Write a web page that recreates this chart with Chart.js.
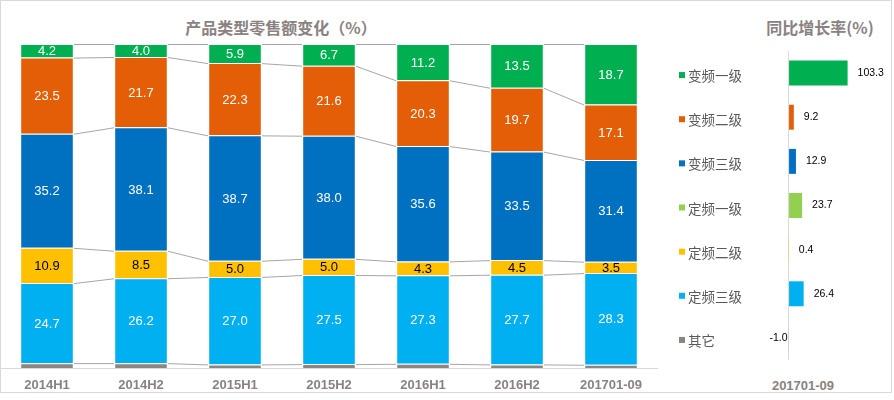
<!DOCTYPE html>
<html><head><meta charset="utf-8">
<script src="https://cdn.jsdelivr.net/npm/chart.js@4"></script>
<style>
html,body{margin:0;padding:0;background:#fff;}
#wrap{position:relative;width:894px;height:400px;overflow:hidden;font-family:"Noto Sans CJK SC","Liberation Sans",sans-serif;}
#frame{position:absolute;left:0;top:0;width:892px;height:393px;box-sizing:border-box;border:1px solid #d9d9d9;}
.t{position:absolute;transform:translate(-50%,-50%);white-space:nowrap;color:#8a8280;font-weight:bold;}
#c1{position:absolute;left:0;top:0;}
#c2{position:absolute;left:670px;top:0;}
</style></head><body>
<div id="wrap">
<div id="frame"></div>
<div class="t" style="left:281px;top:27px;font-size:16px;">产品类型零售额变化（%）</div>
<div class="t" style="left:820px;top:27px;font-size:16px;">同比增长率(%)</div>
<div class="t" style="left:803px;top:385px;font-size:13px;font-family:'Liberation Sans',Arial,sans-serif;">201701-09</div>
<canvas id="c1" width="658" height="400"></canvas>
<canvas id="c2" width="224" height="400"></canvas>
</div>
<script>
// ---- data ----
const periods = ['2014H1','2014H2','2015H1','2015H2','2016H1','2016H2','201701-09'];
const bianpin1 = [4.2, 4.0, 5.9, 6.7, 11.2, 13.5, 18.7];   // 变频一级
const bianpin2 = [23.5, 21.7, 22.3, 21.6, 20.3, 19.7, 17.1]; // 变频二级
const bianpin3 = [35.2, 38.1, 38.7, 38.0, 35.6, 33.5, 31.4]; // 变频三级
const dingpin2 = [10.9, 8.5, 5.0, 5.0, 4.3, 4.5, 3.5];      // 定频二级
const dingpin3 = [24.7, 26.2, 27.0, 27.5, 27.3, 27.7, 28.3]; // 定频三级
const qita = [1.5, 1.5, 1.1, 1.2, 1.3, 1.1, 1.0];           // 其它

const growthCats = ['变频一级','变频二级','变频三级','定频一级','定频二级','定频三级','其它'];
const growth = [103.3, 9.2, 12.9, 23.7, 0.4, 26.4, -1.0];
const growthPeriod = '201701-09';

const C = {bp1:'#00b050', bp2:'#e35e06', bp3:'#0070c0', dp1:'#92d050', dp2:'#ffc000', dp3:'#00b0f0', qt:'#8c8681'};
const growthColors = [C.bp1, C.bp2, C.bp3, C.dp1, C.dp2, C.dp3, C.qt];

const shareSeries = [
  {name:'其它', data:qita, color:C.qt, txt:null},
  {name:'定频三级', data:dingpin3, color:C.dp3, txt:'#ffffff'},
  {name:'定频二级', data:dingpin2, color:C.dp2, txt:'#000000'},
  {name:'变频三级', data:bianpin3, color:C.bp3, txt:'#ffffff'},
  {name:'变频二级', data:bianpin2, color:C.bp2, txt:'#ffffff'},
  {name:'变频一级', data:bianpin1, color:C.bp1, txt:'#ffffff'}
];

const seriesLines = {
  id:'seriesLines',
  beforeDatasetsDraw(chart){
    const ctx = chart.ctx, ys = chart.scales.y;
    const n = periods.length;
    ctx.save();
    ctx.strokeStyle = '#a6a6a6'; ctx.lineWidth = 1;
    const cum = new Array(n).fill(0);
    shareSeries.forEach((s, d) => {
      for (let i = 0; i < n; i++) cum[i] += s.data[i];
      const meta = chart.getDatasetMeta(d);
      for (let i = 0; i < n - 1; i++) {
        const a = meta.data[i], b = meta.data[i+1];
        ctx.beginPath();
        ctx.moveTo(a.x + a.width/2, ys.getPixelForValue(cum[i]) + 0.5);
        ctx.lineTo(b.x - b.width/2, ys.getPixelForValue(cum[i+1]) + 0.5);
        ctx.stroke();
      }
    });
    ctx.restore();
  }
};
const shareLabels = {
  id:'shareLabels',
  afterDatasetsDraw(chart){
    const ctx = chart.ctx;
    ctx.save();
    ctx.font = '13px "Liberation Sans", Arial, sans-serif';
    ctx.textAlign = 'center'; ctx.textBaseline = 'middle';
    shareSeries.forEach((s, d) => {
      if (!s.txt) return;
      ctx.fillStyle = s.txt;
      chart.getDatasetMeta(d).data.forEach((el, i) => {
        ctx.fillText(s.data[i].toFixed(1), el.x, (el.y + el.base)/2 + 1);
      });
    });
    ctx.restore();
  }
};

new Chart(document.getElementById('c1'), {
  type:'bar',
  data:{labels:periods, datasets:shareSeries.map(s => ({
    label:s.name, data:s.data, backgroundColor:s.color, borderColor:'#ffffff', borderWidth:1,
    barPercentage:0.57, categoryPercentage:1
  }))},
  options:{
    responsive:false, animation:false,
    layout:{padding:{top:44, left:0, right:0, bottom:0}},
    plugins:{legend:{display:false}, tooltip:{enabled:false}},
    scales:{
      x:{stacked:true, grid:{display:false, drawTicks:false}, border:{display:true, color:'#d9d9d9', width:1},
         ticks:{maxRotation:0, autoSkip:false, padding:10, color:'#8a8280', font:{family:'"Liberation Sans", Arial, sans-serif', size:13, weight:'bold'}},
         afterFit(s){ s.height = 32; }},
      y:{stacked:true, display:false, min:0, max:100}
    }
  },
  plugins:[seriesLines, shareLabels]
});

const growthDecor = {
  id:'growthDecor',
  afterDraw(chart){
    const ctx = chart.ctx, ys = chart.scales.y;
    ctx.save();
    growthCats.forEach((c, i) => {
      const y = ys.getPixelForTick(i);
      ctx.fillStyle = growthColors[i];
      ctx.fillRect(ys.left - 9, y - 1, 6, 6);
    });
    ctx.font = '10.5px "Liberation Sans", Arial, sans-serif';
    ctx.fillStyle = '#000'; ctx.textBaseline = 'middle';
    chart.getDatasetMeta(0).data.forEach((el, i) => {
      const v = growth[i];
      if (v >= 0) { ctx.textAlign = 'left'; ctx.fillText(v.toFixed(1), el.x + 10, el.y); }
      else { ctx.textAlign = 'right'; ctx.fillText(v.toFixed(1), el.x - 0.5, el.y); }
    });
    ctx.restore();
  }
};

new Chart(document.getElementById('c2'), {
  type:'bar',
  data:{labels:growthCats, datasets:[{label:growthPeriod, data:growth, backgroundColor:growthColors, borderWidth:0, barPercentage:0.566, categoryPercentage:1}]},
  options:{
    indexAxis:'y', responsive:false, animation:false,
    layout:{padding:{top:51, bottom:40, left:18, right:14}},
    plugins:{legend:{display:false}, tooltip:{enabled:false}},
    scales:{
      x:{type:'linear', min:-50, max:160, ticks:{display:false, stepSize:10},
         grid:{drawTicks:false, lineWidth:1, color:(c) => (c.tick && c.tick.value === 0) ? '#d9d9d9' : 'rgba(0,0,0,0)'},
         border:{display:false}, afterFit(s){ s.height = 0; }},
      y:{grid:{display:false, drawTicks:false}, border:{display:false},
         ticks:{crossAlign:'far', labelOffset:3, padding:0, color:'#595959', font:{family:'"Noto Sans CJK SC", sans-serif', size:13.5}},
         afterFit(s){ s.width = 72; }}
    }
  },
  plugins:[growthDecor]
});
</script>
</body></html>
